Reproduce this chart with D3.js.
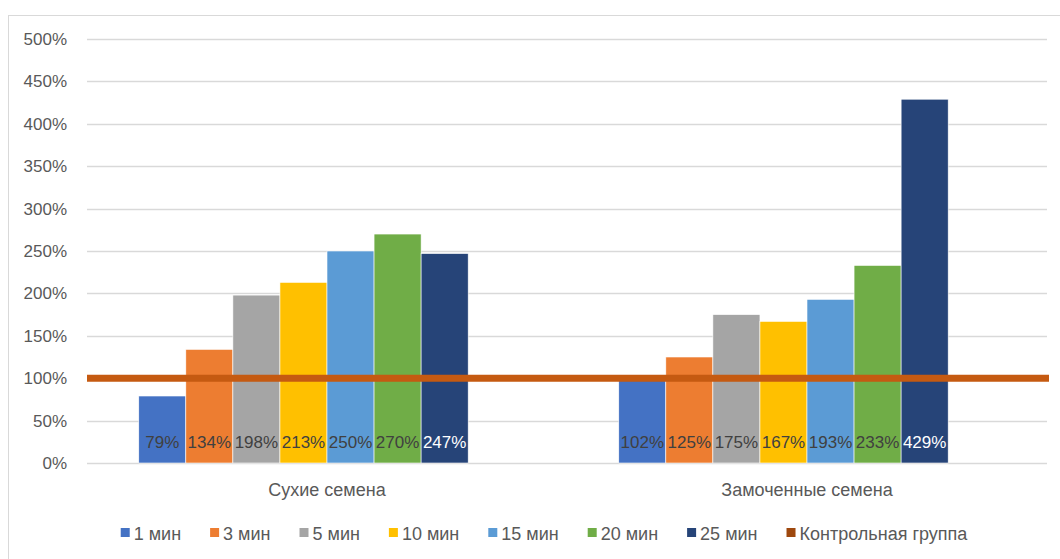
<!DOCTYPE html>
<html>
<head>
<meta charset="utf-8">
<script src="https://cdn.jsdelivr.net/npm/d3@7"></script>
<style>
    body { margin: 0; background: #fff; }
    svg text { font-family: "Liberation Sans", Arial, sans-serif; }
</style>
</head>
<body>
<div id="chart"></div>
<script>
// chart data
const categories = ['Сухие семена', 'Замоченные семена'];
const seriesNames = ['1 мин', '3 мин', '5 мин', '10 мин', '15 мин', '20 мин', '25 мин'];
const dryValues = [0.79, 1.34, 1.98, 2.13, 2.50, 2.70, 2.47];
const soakedValues = [1.02, 1.25, 1.75, 1.67, 1.93, 2.33, 4.29];
const controlValue = 1.0;
const controlName = 'Контрольная группа';
const yTicks = [0, 0.5, 1, 1.5, 2, 2.5, 3, 3.5, 4, 4.5, 5];

const seriesColors = ['#4472C4', '#ED7D31', '#A5A5A5', '#FFC000', '#5B9BD5', '#70AD47', '#264478'];
const controlColor = '#C55A11';
const controlLegendColor = '#9E480E';

const svgWidth = 1060, svgHeight = 559;
const plot = { left: 87, right: 1047, top: 39, bottom: 463 };

const svg = d3.select('#chart').append('svg')
    .attr('width', svgWidth)
    .attr('height', svgHeight);

// outer chart border
svg.append('rect')
    .attr('x', 8.5).attr('y', 15.5)
    .attr('width', 1070).attr('height', 600)
    .attr('fill', 'none')
    .attr('stroke', '#D9D9D9');

const yScale = d3.scaleLinear()
    .domain([0, 5])
    .range([plot.bottom, plot.top]);

const xScale = d3.scaleBand()
    .domain(categories)
    .range([plot.left, plot.right])
    .paddingInner(0)
    .paddingOuter(0);

// the cluster reserves room for 8 series (control line counts as one)
const slots = d3.range(8);
const xInner = d3.scaleBand()
    .domain(slots)
    .range([0, xScale.bandwidth()])
    .paddingOuter(1.1);

// gridlines
svg.append('g')
    .selectAll('line')
    .data(yTicks)
    .enter()
    .append('line')
    .attr('x1', plot.left)
    .attr('x2', plot.right)
    .attr('y1', d => Math.round(yScale(d)) + 0.5)
    .attr('y2', d => Math.round(yScale(d)) + 0.5)
    .attr('stroke', '#D9D9D9')
    .attr('stroke-width', 1.5);

// y axis labels
const yAxis = d3.axisLeft(yScale)
    .tickValues(yTicks)
    .tickFormat(d => Math.round(d * 100) + '%')
    .tickSize(0)
    .tickPadding(0);

const yG = svg.append('g')
    .attr('transform', 'translate(67,0)')
    .call(yAxis);
yG.select('.domain').remove();
yG.selectAll('text')
    .attr('font-size', 17)
    .attr('fill', '#595959')
    .attr('font-family', '"Liberation Sans", Arial, sans-serif');

// bars
const groups = [dryValues, soakedValues];
groups.forEach((vals, gi) => {
    const g = svg.append('g')
        .attr('transform', 'translate(' + xScale(categories[gi]) + ',0)');

    const rows = vals.map((v, i) => ({ v: v, i: i }));

    g.selectAll('rect')
        .data(rows)
        .enter()
        .append('rect')
        .attr('x', d => xInner(d.i))
        .attr('y', d => yScale(d.v))
        .attr('width', xInner.bandwidth())
        .attr('height', d => yScale(0) - yScale(d.v))
        .attr('fill', d => seriesColors[d.i])
        .attr('stroke', '#fff')
        .attr('stroke-width', 0.6);

    g.selectAll('text')
        .data(rows)
        .enter()
        .append('text')
        .attr('x', d => xInner(d.i) + xInner.bandwidth() / 2)
        .attr('y', 448)
        .attr('text-anchor', 'middle')
        .attr('font-size', 17)
        .attr('fill', d => d.i === 6 ? '#ffffff' : '#404040')
        .text(d => Math.round(d.v * 100) + '%');
});

// control group line
svg.append('line')
    .attr('x1', plot.left)
    .attr('x2', plot.right + 2)
    .attr('y1', yScale(controlValue))
    .attr('y2', yScale(controlValue))
    .attr('stroke', controlColor)
    .attr('stroke-width', 7);

// category labels
svg.append('g')
    .selectAll('text')
    .data(categories)
    .enter()
    .append('text')
    .attr('x', d => xScale(d) + xScale.bandwidth() / 2)
    .attr('y', 496)
    .attr('text-anchor', 'middle')
    .attr('font-size', 18)
    .attr('fill', '#595959')
    .text(d => d);

// legend
const legendItems = seriesNames.map((n, i) => ({ name: n, color: seriesColors[i] }))
    .concat([{ name: controlName, color: controlLegendColor }]);

const legend = svg.append('g');
let cursor = 0;
const gap = 29;
legendItems.forEach(item => {
    const it = legend.append('g').attr('transform', 'translate(' + cursor + ',0)');
    it.append('rect')
        .attr('x', 0).attr('y', -12)
        .attr('width', 9).attr('height', 9)
        .attr('fill', item.color);
    const t = it.append('text')
        .attr('x', 13)
        .attr('y', 0)
        .attr('font-size', 18)
        .attr('fill', '#595959')
        .text(item.name);
    cursor += 13 + t.node().getComputedTextLength() + gap;
});
const legendWidth = cursor - gap;
legend.attr('transform', 'translate(' + (544 - legendWidth / 2) + ',540)');
</script>
</body>
</html>
